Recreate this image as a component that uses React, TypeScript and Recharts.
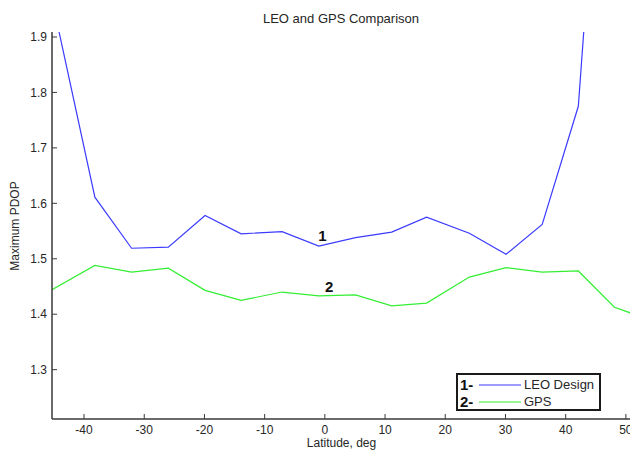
import React from 'react';
import { LineChart, Line, XAxis, YAxis, ReferenceDot } from 'recharts';

// latitude samples (deg) shared by both series
const latitudes = [-45.32, -38.2, -32.1, -26.0, -19.9, -13.9, -7.1, -1.0, 5.1, 11.1, 16.9, 24.0, 30.1, 36.1, 42.1, 48.1, 50.85];
const leoPdop = [1.968, 1.611, 1.519, 1.521, 1.578, 1.545, 1.549, 1.523, 1.538, 1.548, 1.575, 1.546, 1.508, 1.562, 1.775, 2.67, 2.9];
const gpsPdop = [1.444, 1.488, 1.476, 1.483, 1.443, 1.425, 1.44, 1.433, 1.435, 1.415, 1.42, 1.467, 1.484, 1.476, 1.478, 1.4125, 1.402];

const xTicks = [-40, -30, -20, -10, 0, 10, 20, 30, 40, 50];
const yTicks = [1.3, 1.4, 1.5, 1.6, 1.7, 1.8, 1.9];
const xDomain: [number, number] = [-45.32, 50.85];
const yDomain: [number, number] = [1.211, 1.909];

const data = latitudes.map((lat, i) => ({ lat, leo: leoPdop[i], gps: gpsPdop[i] }));

const series = [
    { key: 'leo', name: 'LEO Design', color: '#3b3bff' },
    { key: 'gps', name: 'GPS', color: '#33ee33' },
];

const FONT = 'Arial, "Liberation Sans", Helvetica, sans-serif';
const AXIS = '#3a3a3a';
const TEXT = '#262626';
const TICK_LEN = 5;

// MATLAB-style inward ticks, drawn together with their labels
const BottomTick = ({ x, y, payload }: any) => (
    <g>
        <line x1={x} y1={y} x2={x} y2={y - TICK_LEN} stroke={AXIS} strokeWidth={1} />
        <text x={x} y={y + 11} dy="0.35em" textAnchor="middle" fontSize={12} fill={TEXT} fontFamily={FONT}>
            {payload.value}
        </text>
    </g>
);

const TopTick = ({ x, y }: any) => (
    <line x1={x} y1={y} x2={x} y2={y + TICK_LEN} stroke={AXIS} strokeWidth={1} />
);

const LeftTick = ({ x, y, payload }: any) => (
    <g>
        <line x1={x} y1={y} x2={x + TICK_LEN} y2={y} stroke={AXIS} strokeWidth={1} />
        <text x={x - 5} y={y} dy="0.35em" textAnchor="end" fontSize={12} fill={TEXT} fontFamily={FONT}>
            {Number(payload.value).toFixed(1)}
        </text>
    </g>
);

const RightTick = ({ x, y }: any) => (
    <line x1={x} y1={y} x2={x - TICK_LEN} y2={y} stroke={AXIS} strokeWidth={1} />
);

const LegendBox = () => (
    <div
        style={{
            position: 'absolute',
            left: 456,
            top: 373,
            width: 145,
            height: 38,
            border: '2px solid #1a1a1a',
            background: '#fff',
            padding: '1px 0 1px 2px',
            boxSizing: 'border-box',
            fontFamily: FONT,
            whiteSpace: 'nowrap',
        }}
    >
        {series.map((s, i) => (
            <div key={s.key} style={{ display: 'flex', alignItems: 'center', height: 17 }}>
                <span style={{ fontWeight: 700, fontSize: 15, width: 19, flexShrink: 0, color: '#111' }}>{`${i + 1}-`}</span>
                <svg width={42} height={4} style={{ marginRight: 3, flexShrink: 0 }}>
                    <line x1={0} y1={2} x2={42} y2={2} stroke={s.color} strokeWidth={1} />
                </svg>
                <span style={{ fontSize: 13, color: TEXT, flexShrink: 0 }}>{s.name}</span>
            </div>
        ))}
    </div>
);

const seriesMark = (text: string) => (props: any) => (
    <text
        x={props.viewBox.x}
        y={props.viewBox.y}
        dy="0.35em"
        textAnchor="middle"
        fontSize={15}
        fontWeight={700}
        fill="#111"
        fontFamily={FONT}
    >
        {text}
    </text>
);

export default function App() {
    return (
        <div style={{ position: 'absolute', left: 0, top: 0, width: 630, height: 451, overflow: 'hidden', background: '#fff' }}>
            <div
                style={{
                    position: 'absolute',
                    left: 0,
                    width: 682,
                    top: 11,
                    textAlign: 'center',
                    fontFamily: FONT,
                    fontSize: 13,
                    color: TEXT,
                }}
            >
                LEO and GPS Comparison
            </div>
            <div
                style={{
                    position: 'absolute',
                    left: 15,
                    top: 226,
                    transform: 'translate(-50%, -50%) rotate(-90deg)',
                    fontFamily: FONT,
                    fontSize: 12,
                    color: TEXT,
                    whiteSpace: 'nowrap',
                }}
            >
                Maximum PDOP
            </div>
            <div
                style={{
                    position: 'absolute',
                    left: 0,
                    width: 683,
                    top: 436,
                    textAlign: 'center',
                    fontFamily: FONT,
                    fontSize: 12,
                    color: TEXT,
                }}
            >
                Latitude, deg
            </div>
            <LineChart width={632} height={451} data={data} margin={{ top: 32, right: 1, bottom: 0, left: 0 }}>
                <XAxis
                    xAxisId="bottom"
                    dataKey="lat"
                    type="number"
                    domain={xDomain}
                    ticks={xTicks}
                    interval={0}
                    allowDataOverflow
                    height={32}
                    tickLine={false}
                    tickSize={0}
                    tickMargin={0}
                    tick={<BottomTick />}
                    axisLine={{ stroke: AXIS, strokeWidth: 1.5 }}
                />
                <XAxis
                    xAxisId="top"
                    orientation="top"
                    dataKey="lat"
                    type="number"
                    domain={xDomain}
                    ticks={xTicks}
                    interval={0}
                    allowDataOverflow
                    height={0}
                    tickLine={false}
                    tickSize={0}
                    tickMargin={0}
                    tick={<TopTick />}
                    axisLine={{ stroke: AXIS, strokeWidth: 1.5 }}
                />
                <YAxis
                    yAxisId="left"
                    type="number"
                    domain={yDomain}
                    ticks={yTicks}
                    interval={0}
                    allowDataOverflow
                    width={52}
                    tickLine={false}
                    tickSize={0}
                    tickMargin={0}
                    tick={<LeftTick />}
                    axisLine={{ stroke: AXIS, strokeWidth: 1.5 }}
                />
                <YAxis
                    yAxisId="right"
                    orientation="right"
                    type="number"
                    domain={yDomain}
                    ticks={yTicks}
                    interval={0}
                    allowDataOverflow
                    width={0}
                    tickLine={false}
                    tickSize={0}
                    tickMargin={0}
                    tick={<RightTick />}
                    axisLine={{ stroke: AXIS, strokeWidth: 1.5 }}
                />
                {series.map((s) => (
                    <Line
                        key={s.key}
                        xAxisId="bottom"
                        yAxisId="left"
                        dataKey={s.key}
                        name={s.name}
                        stroke={s.color}
                        strokeWidth={1.2}
                        dot={false}
                        activeDot={false}
                        isAnimationActive={false}
                    />
                ))}
                <ReferenceDot xAxisId="bottom" yAxisId="left" x={-0.4} y={1.5414} r={0} label={seriesMark('1')} />
                <ReferenceDot xAxisId="bottom" yAxisId="left" x={0.7} y={1.45} r={0} label={seriesMark('2')} />
            </LineChart>
            <LegendBox />
        </div>
    );
}
